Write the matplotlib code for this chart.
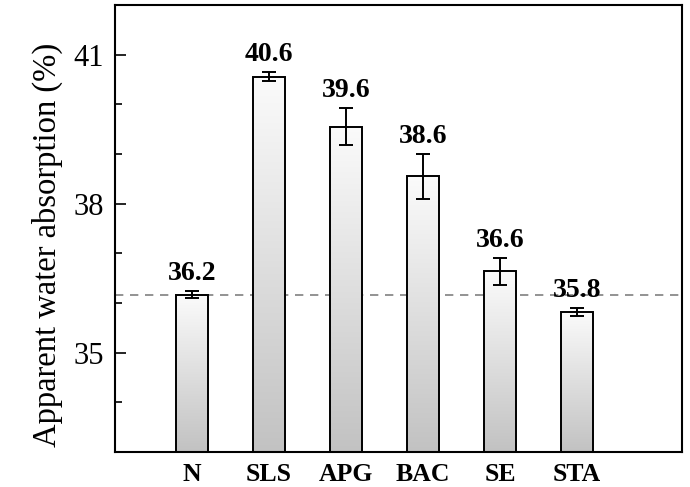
import numpy as np
import matplotlib.pyplot as plt
from matplotlib.colors import LinearSegmentedColormap

plt.rcParams['font.family'] = ['Liberation Serif', 'DejaVu Serif']

# Data
groups = ['N', 'SLS', 'APG', 'BAC', 'SE', 'STA']
values = [36.17, 40.56, 39.55, 38.55, 36.64, 35.82]
errors = [0.07, 0.10, 0.37, 0.45, 0.27, 0.08]
labels = ['36.2', '40.6', '39.6', '38.6', '36.6', '35.8']
ref_level = 36.17

fig = plt.figure(figsize=(6.9, 4.87), dpi=100)
ax = fig.add_axes([115 / 690, 1 - 452 / 487, (682 - 115) / 690, (452 - 5) / 487])

x = np.arange(len(groups))
width = 0.42
ymin, ymax = 33, 42

bars = ax.bar(x, values, width, facecolor='none', edgecolor='black', linewidth=1.4, zorder=3)

# vertical gradient fill, clipped to each bar
cmap = LinearSegmentedColormap.from_list('g', ['#c2c2c2', '#fbfbfb'])
grad = np.linspace(0, 1, 256).reshape(-1, 1)
for b in bars:
    x0 = b.get_x()
    im = ax.imshow(grad, cmap=cmap, aspect='auto', origin='lower',
                   extent=[x0, x0 + b.get_width(), ymin, b.get_height()], zorder=2)
    im.set_clip_path(b)

ax.errorbar(x, values, yerr=errors, fmt='none', ecolor='black', elinewidth=1.4,
            capsize=5, capthick=1.4, zorder=4)

for xi, v, e, lab in zip(x, values, errors, labels):
    ax.text(xi, v + e + 0.1, lab, ha='center', va='bottom', fontsize=20,
            fontweight='bold', zorder=5)

ax.axhline(ref_level, color='gray', linestyle=(0, (5, 4)), linewidth=1.2, zorder=1)

ax.set_xlim(-1.0, 6.36)
ax.set_ylim(ymin, ymax)
ax.set_yticks([35, 38, 41])
ax.set_yticks([34, 36, 37, 39, 40], minor=True)
ax.set_xticks(x)
ax.set_xticklabels(groups, fontsize=18.5, fontweight='bold')
ax.tick_params(axis='y', which='major', direction='in', length=8, width=1.2, labelsize=22, pad=8)
ax.tick_params(axis='y', which='minor', direction='in', length=5, width=1.2)
ax.tick_params(axis='x', direction='in', length=6, width=1.2, pad=8)
ax.set_ylabel('Apparent water absorption (%)', fontsize=23.5)
ax.yaxis.set_label_coords(-0.092, 0.464)

for s in ax.spines.values():
    s.set_linewidth(1.5)

fig.savefig('out.png', dpi=100)
